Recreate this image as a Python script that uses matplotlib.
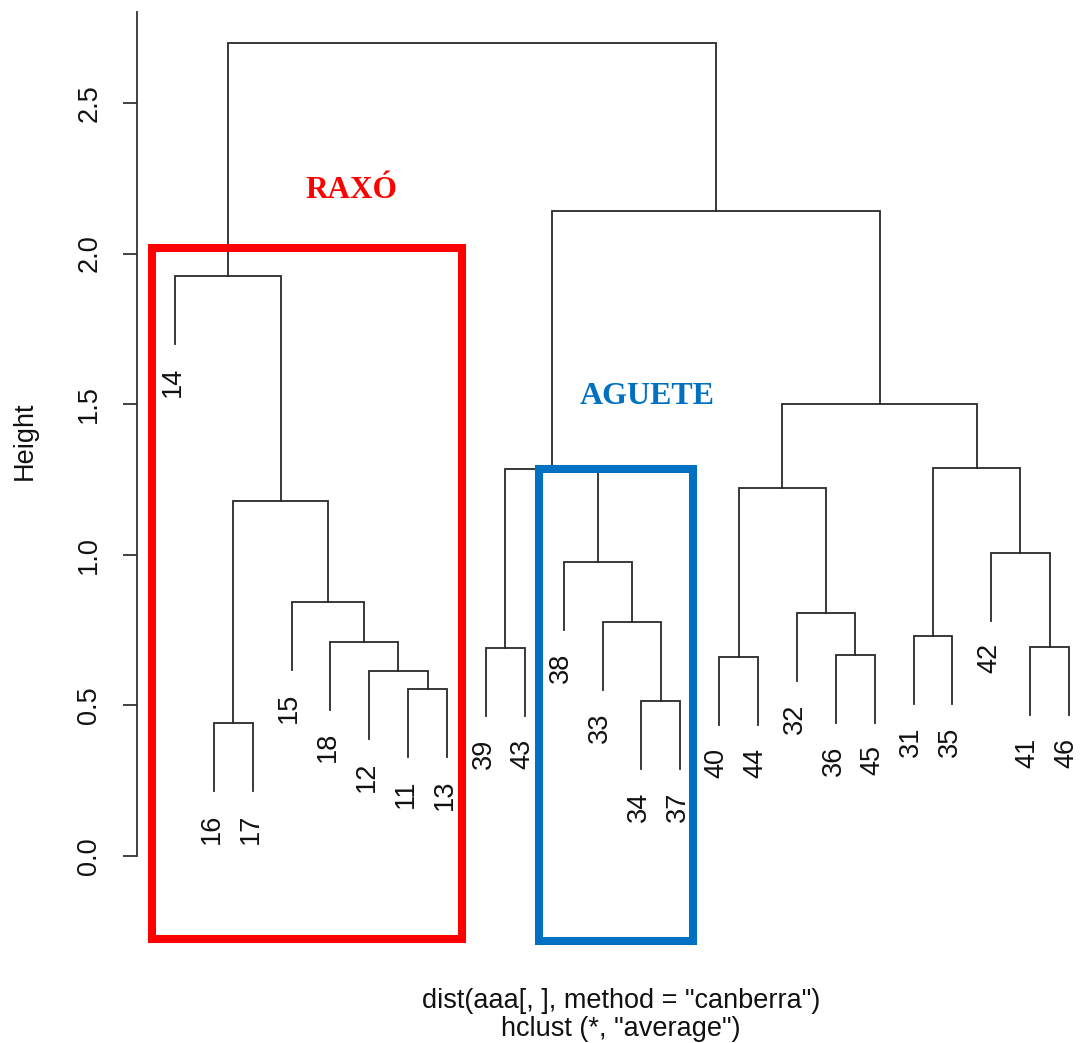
import matplotlib
matplotlib.use("Agg")
import matplotlib.pyplot as plt
from matplotlib.patches import Rectangle

# --- datos: hclust (average, canberra) ---
hojas = ["14", "16", "17", "15", "18", "12", "11", "13", "39", "43", "38", "33",
         "34", "37", "40", "44", "32", "36", "45", "31", "35", "42", "41", "46"]
# (izquierda, derecha, altura): str = hoja, int = fusión previa
fusiones = [
    ("11", "13", 0.555),   # 0
    ("12", 0, 0.615),      # 1
    ("18", 1, 0.712),      # 2
    ("15", 2, 0.844),      # 3
    ("16", "17", 0.442),   # 4
    (4, 3, 1.178),         # 5
    ("14", 5, 1.924),      # 6
    ("39", "43", 0.691),   # 7
    ("34", "37", 0.515),   # 8
    ("33", 8, 0.777),      # 9
    ("38", 9, 0.975),      # 10
    (7, 10, 1.286),        # 11
    ("40", "44", 0.660),   # 12
    ("36", "45", 0.668),   # 13
    ("32", 13, 0.806),     # 14
    (12, 14, 1.221),       # 15
    ("31", "35", 0.731),   # 16
    ("41", "46", 0.694),   # 17
    ("42", 17, 1.007),     # 18
    (16, 18, 1.289),       # 19
    (15, 19, 1.502),       # 20
    (11, 20, 2.140),       # 21
    (6, 21, 2.700),        # 22
]
ticks_y = [0.0, 0.5, 1.0, 1.5, 2.0, 2.5]

LINEA = "#2a2a2a"
ROJO, AZUL = "#ff0000", "#0070c0"
SANS = ["Liberation Sans", "DejaVu Sans"]
SERIF = ["Liberation Serif", "DejaVu Serif"]

fig = plt.figure(figsize=(10.8, 10.43), dpi=100)
ax = fig.add_axes([0, 0, 1, 1])
ax.set_xlim(-3.502, 24.283)
ax.set_ylim(-0.621, 2.842)

alturas = [f[2] for f in fusiones]
hang = 0.1 * (max(alturas) - min(alturas))
pos = {h: i + 1 for i, h in enumerate(hojas)}

xs, ys = [], []
for izq, der, h in fusiones:
    pts = []
    for c in (izq, der):
        if isinstance(c, str):
            pts.append((pos[c], h - hang))
        else:
            pts.append((xs[c], ys[c]))
    (x1, y1), (x2, y2) = pts
    ax.plot([x1, x1, x2, x2], [y1, h, h, y2], color=LINEA, lw=1.3, solid_joinstyle="miter")
    xs.append((x1 + x2) / 2)
    ys.append(h)

# etiquetas de hojas
padre = {}
for izq, der, h in fusiones:
    for c in (izq, der):
        if isinstance(c, str):
            padre[c] = h
for hj in hojas:
    ax.text(pos[hj] - 0.06, padre[hj] - hang - 0.075, hj, rotation=90, ha="center", va="top",
            fontsize=19.5, family=SANS, color="#111111")

# eje y
for s in ["top", "right", "bottom"]:
    ax.spines[s].set_visible(False)
ax.spines["left"].set_position(("data", 0.02))
ax.spines["left"].set_bounds(0, 2.802)
ax.spines["left"].set_color("#333333")
ax.spines["left"].set_linewidth(1.3)
ax.set_xticks([])
ax.set_yticks(ticks_y)
ax.set_yticklabels([f"{t:.1f}" for t in ticks_y], rotation=90, va="center", family=SANS, fontsize=19.5)
ax.tick_params(axis="y", length=10, width=1.3, color="#333333", pad=15, labelcolor="#111111")
ax.text(-2.86, 1.38, "Height", rotation=90, ha="center", va="center", fontsize=19.5,
        family=SANS, color="#111111")

# texto inferior
ax.text(12.47, -0.482, 'dist(aaa[, ], method = "canberra")', ha="center", va="center",
        fontsize=19.5, family=SANS, color="#111111")
ax.text(12.47, -0.575, 'hclust (*, "average")', ha="center", va="center",
        fontsize=19.5, family=SANS, color="#111111")

# recuadros de grupos
ax.add_patch(Rectangle((0.408, -0.276), 8.384 - 0.408, 2.019 + 0.276, fill=False,
                       edgecolor=ROJO, lw=5.8, joinstyle="miter", zorder=3))
ax.add_patch(Rectangle((10.365, -0.282), 14.327 - 10.365, 1.285 + 0.282, fill=False,
                       edgecolor=AZUL, lw=5.8, joinstyle="miter", zorder=3))
ax.text(5.55, 2.211, "RAXÓ", color=ROJO, ha="center", va="center", fontsize=22.5,
        fontweight="bold", family=SERIF)
ax.text(13.14, 1.524, "AGUETE", color=AZUL, ha="center", va="center", fontsize=23,
        fontweight="bold", family=SERIF)

fig.savefig("out.png", dpi=100)
